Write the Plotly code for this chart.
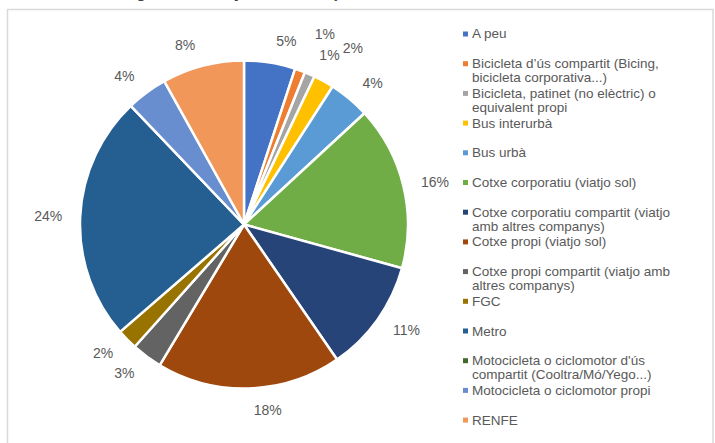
import textwrap
import plotly.graph_objects as go

# Mitjans de transport utilitzats (percentatge de respostes)
categories = [
    "A peu",
    "Bicicleta d’ús compartit (Bicing, bicicleta corporativa...)",
    "Bicicleta, patinet (no elèctric) o equivalent propi",
    "Bus interurbà",
    "Bus urbà",
    "Cotxe corporatiu (viatjo sol)",
    "Cotxe corporatiu compartit (viatjo amb altres companys)",
    "Cotxe propi (viatjo sol)",
    "Cotxe propi compartit (viatjo amb altres companys)",
    "FGC",
    "Metro",
    "Motocicleta o ciclomotor d'ús compartit (Cooltra/Mó/Yego...)",
    "Motocicleta o ciclomotor propi",
    "RENFE",
]
shares = [5, 1, 1, 2, 4, 16, 11, 18, 3, 2, 24, 0, 4, 8]
colors = [
    "#4472C4", "#ED7D31", "#A5A5A5", "#FFC000", "#5B9BD5", "#70AD47", "#264478",
    "#9E480E", "#636363", "#997300", "#255E91", "#43682B", "#698ED0", "#F1975A",
]
title_text = "Figura 3.3.: Mitjans de transport utilitzats en la mobilitat in itinere"

W, H = 715, 443
FONT = "Liberation Sans, Arial, sans-serif"
GREY_TEXT = "#595959"


def px(x):
    return x / W


def py(y):
    return 1 - y / H


def pie_domain(cx, cy, radius):
    return dict(x=[px(cx - radius), px(cx + radius)], y=[py(cy + radius), py(cy - radius)])


# pie geometry (pixels)
cx, cy, r = 244, 224.5, 164
# labels of the thin slices at the top are lifted onto an outer ring so they don't collide
lifted = {"Bicicleta d’ús compartit (Bicing, bicicleta corporativa...)", "Bus interurbà"}

common = dict(labels=categories, values=shares, sort=False,
              direction="clockwise", rotation=0, showlegend=False)

fig = go.Figure()
# one transparent ring per label, so each percentage stays next to its own slice
for i, (name, v) in enumerate(zip(categories, shares)):
    if v <= 0:
        continue
    ring_r = r + (31 if name in lifted else 14)
    fig.add_trace(go.Pie(
        **common,
        marker=dict(colors=["rgba(0,0,0,0)"] * len(shares), line=dict(width=0)),
        texttemplate="%{percent:.0%}",
        textposition=["outside" if k == i else "none" for k in range(len(shares))],
        textfont=dict(family=FONT, size=14, color=GREY_TEXT),
        domain=pie_domain(cx, cy, ring_r),
        hoverinfo="skip",
    ))
# the coloured slices
fig.add_trace(go.Pie(
    **common,
    marker=dict(colors=colors, line=dict(color="white", width=2.5)),
    textinfo="none",
    domain=pie_domain(cx, cy, r),
    hovertemplate="%{label}: %{percent:.0%}<extra></extra>",
))

shapes = [
    # outer chart frame
    dict(type="rect", xref="paper", yref="paper",
         x0=px(7.5), x1=px(713), y0=py(9.5), y1=py(460),
         line=dict(color="#D9D9D9", width=1.5), fillcolor="rgba(0,0,0,0)", layer="below"),
]
annotations = [
    dict(text="<b>" + title_text + "</b>", xref="paper", yref="paper",
         x=px(369), y=1, xanchor="center", yanchor="bottom", yshift=-3.5,
         showarrow=False, font=dict(family=FONT, size=16, color="#404040")),
]

# legend: square marker + wrapped label per category
leg_top, leg_step, line_step = 34, 29.7, 14
for i, (name, col) in enumerate(zip(categories, colors)):
    y0 = leg_top + i * leg_step
    shapes.append(dict(type="rect", xref="paper", yref="paper",
                       x0=px(463), x1=px(468), y0=py(y0 + 2.5), y1=py(y0 - 2.5),
                       line=dict(width=0), fillcolor=col))
    for j, line in enumerate(textwrap.wrap(name, width=34)):
        annotations.append(dict(
            text=line, xref="paper", yref="paper",
            x=px(470), y=py(y0 + j * line_step), xanchor="left", yanchor="middle",
            showarrow=False, font=dict(family=FONT, size=13.5, color=GREY_TEXT)))

fig.update_layout(
    width=W, height=H,
    margin=dict(l=0, r=0, t=0, b=0),
    paper_bgcolor="white",
    plot_bgcolor="white",
    shapes=shapes,
    annotations=annotations,
)

fig.write_html("out.html")
